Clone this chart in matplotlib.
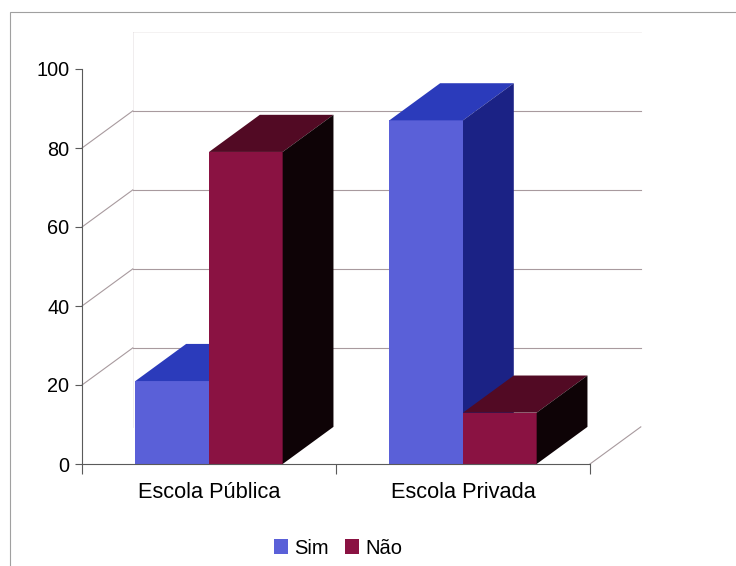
import matplotlib
matplotlib.use("Agg")
import matplotlib.pyplot as plt
from matplotlib.patches import Polygon, Rectangle, Patch

categories = ['Escola Pública', 'Escola Privada']
series = ['Sim', 'Não']
sim = [21, 87]
nao = [79, 13]
yticks = [0, 20, 40, 60, 80, 100]

plt.rcParams['font.family'] = ['Liberation Sans', 'DejaVu Sans']

# colours: front, top, side
blue = ('#5a60d8', '#2b3bbb', '#1b2285')
red = ('#8a1242', '#520a24', '#0e0306')
grid_c = '#a89a9e'
axis_c = '#5a5a5a'

fig = plt.figure(figsize=(7.36, 5.66), dpi=100)
ax = fig.add_axes([82 / 736, 102 / 566, 508 / 736, 395 / 566])
ax.set_xlim(0, 2)
ax.set_ylim(0, 100)

# depth offset of the 3d box, in data units
DX, DY = 0.2, 9.4

# back wall gridlines and side wall lines (0 and 100 are barely drawn)
for y in yticks[1:-1]:
    ax.plot([DX, 2 + DX], [y + DY, y + DY], color=grid_c, lw=0.8,
            zorder=0, clip_on=False)
    ax.plot([0, DX], [y, y + DY], color=grid_c, lw=0.8, zorder=0, clip_on=False)
ax.plot([DX, 2 + DX], [100 + DY, 100 + DY], color=grid_c, lw=0.6,
        zorder=0, clip_on=False, alpha=0.15)
ax.plot([DX, DX], [DY, 100 + DY], color=grid_c, lw=0.6, zorder=0,
        clip_on=False, alpha=0.2)
ax.plot([2, 2 + DX], [0, DY], color=grid_c, lw=0.8, zorder=0, clip_on=False)

# bars
width = 0.29
z = 2
for i, cat in enumerate(categories):
    c = i + 0.5
    for vals, cols, off in [(sim, blue, -width / 2), (nao, red, width / 2)]:
        x0 = c + off - width / 2
        x1 = x0 + width
        h = vals[i]
        ax.bar(x0, h, width=width, align='edge', color=cols[0], zorder=z,
               linewidth=0)
        top = Polygon([(x0, h), (x1, h), (x1 + DX, h + DY), (x0 + DX, h + DY)],
                      closed=True, facecolor=cols[1], edgecolor='none',
                      zorder=z + 1, clip_on=False)
        side = Polygon([(x1, 0), (x1 + DX, DY), (x1 + DX, h + DY), (x1, h)],
                       closed=True, facecolor=cols[2], edgecolor='none',
                       zorder=z + 1, clip_on=False)
        ax.add_patch(top)
        ax.add_patch(side)
        z += 2

# axes
for s in ['top', 'right']:
    ax.spines[s].set_visible(False)
for s in ['left', 'bottom']:
    ax.spines[s].set_color(axis_c)
    ax.spines[s].set_linewidth(0.8)
    ax.spines[s].set_zorder(20)
ax.set_yticks(yticks)
ax.tick_params(axis='y', length=5, width=0.8, color=axis_c, labelsize=14.3,
               pad=4)
ax.set_xticks([0, 1, 2])
ax.set_xticklabels([])
ax.tick_params(axis='x', which='major', length=7, width=0.8, color=axis_c)
ax.set_xticks([0.5, 1.5], minor=True)
ax.set_xticklabels(categories, minor=True)
ax.tick_params(axis='x', which='minor', length=0, labelsize=15.7, pad=13)
ax.patch.set_visible(False)

# outer chart border
fig.patches.append(Rectangle((10 / 736, -0.1), 1.2, 1.1 - 12 / 566,
                             transform=fig.transFigure, fill=False,
                             edgecolor='#a0a0a0', lw=0.8))

handles = [Patch(facecolor=blue[0], label=series[0]),
           Patch(facecolor=red[0], label=series[1])]
fig.legend(handles=handles, loc='center', bbox_to_anchor=(338 / 736, 1 - 548 / 566),
           ncol=2, frameon=False, fontsize=14.5, handlelength=0.7,
           handleheight=0.7, handletextpad=0.3, columnspacing=0.8)

fig.savefig('out.png', dpi=100)
